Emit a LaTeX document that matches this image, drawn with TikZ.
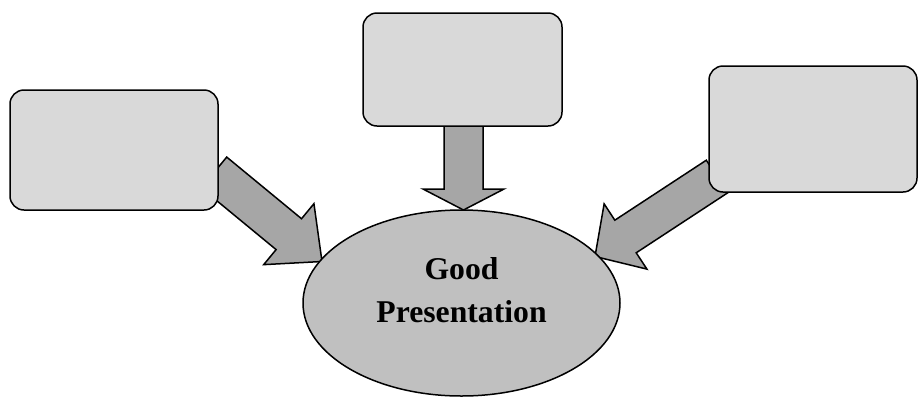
\documentclass[tikz,border=0pt]{standalone}
\usepackage{fontspec}
\setmainfont{Liberation Serif}
\usetikzlibrary{calc,shapes.geometric,backgrounds}
\definecolor{boxfill}{HTML}{D9D9D9}
\definecolor{arrowfill}{HTML}{A6A6A6}
\definecolor{ellfill}{HTML}{C0C0C0}
\tikzset{
  box/.style={draw=black,line width=1.5pt,fill=boxfill,rounded corners=14pt,inner sep=0pt,outer sep=0pt},
  ellbox/.style={ellipse,draw=black,line width=1.5pt,fill=ellfill,inner sep=0pt,outer sep=0pt},
  blockarrow/.style={draw=black,line width=1.5pt,fill=arrowfill,line join=miter},
  lbl/.style={font=\fontsize{31.7}{43}\selectfont\bfseries,align=center,inner sep=0pt,outer sep=0pt}
}
% #1 start, #2 tip, #3 shaft half width, #4 head half width, #5 head length
\newcommand\myblkarrow[5]{%
  \coordinate (ba-H) at ($(#2)!#5!(#1)$);
  \draw[blockarrow] ($(#1)!#3!90:(#2)$) -- ($(ba-H)!#3!-90:(#1)$) -- ($(ba-H)!#4!-90:(#1)$)
    -- (#2) -- ($(ba-H)!#4!90:(#1)$) -- ($(ba-H)!#3!90:(#1)$) -- ($(#1)!#3!-90:(#2)$) -- cycle;}
\begin{document}
\begin{tikzpicture}[x=1pt,y=-1pt]
\useasboundingbox (0,0) rectangle (918,397);
\node[box,minimum width=208pt,minimum height=120pt] (boxL) at (114,150) {};
\node[box,minimum width=199pt,minimum height=113pt] (boxC) at (462.5,69.5) {};
\node[box,minimum width=208pt,minimum height=126pt] (boxR) at (813,129) {};
\node[ellbox,minimum width=317pt,minimum height=186pt] (ell) at (461.5,303) {};
\node[lbl,anchor=north] (txt) at (461.5,257.5) {Good\\Presentation};
\coordinate (sL) at ($(boxL.east)+(-4,22.5)$);
\coordinate (tL) at ($(ell.center)+(-139.5,-41.5)$);
\coordinate (sC) at ($(boxC.south)+(1,-6)$);
\coordinate (tC) at ($(ell.center)+(2,-93)$);
\coordinate (sR) at ($(boxR.west)+(8,47.5)$);
\coordinate (tR) at ($(ell.center)+(133.5,-46.5)$);
\begin{pgfonlayer}{background}
\myblkarrow{sL}{tL}{20pt}{39.5pt}{43pt}
\myblkarrow{sC}{tC}{19.5pt}{40.5pt}{21pt}
\myblkarrow{sR}{tR}{19.5pt}{39pt}{36.5pt}
\end{pgfonlayer}
\end{tikzpicture}
\end{document}
